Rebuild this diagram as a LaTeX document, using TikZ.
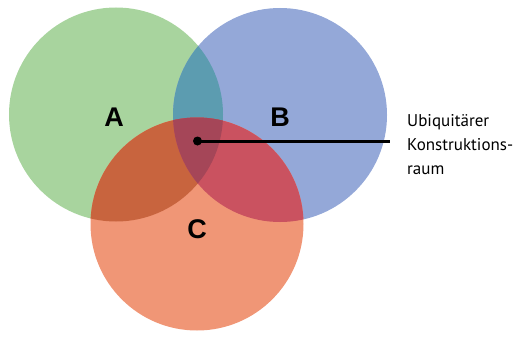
\documentclass[tikz,border=0pt]{standalone}
\usepackage{fontspec}
\setmainfont{PT Sans}
\newfontfamily\labfont{Liberation Sans}
\definecolor{cA}{RGB}{168,212,158}
\definecolor{cB}{RGB}{148,168,216}
\definecolor{cC}{RGB}{240,150,118}
\definecolor{cAB}{RGB}{92,156,176}
\definecolor{cAC}{RGB}{200,100,62}
\definecolor{cBC}{RGB}{202,82,96}
\definecolor{cABC}{RGB}{165,70,88}
\begin{document}
\begin{tikzpicture}[x=1pt,y=-1pt,
  lab/.style={font=\labfont\bfseries\fontsize{27}{27}\selectfont, text=black},
  note/.style={font=\fontsize{17}{20}\selectfont, anchor=base west, inner sep=0pt}]
\useasboundingbox (0,0) rectangle (532,337);
\def\circA{(116,114.5) circle[radius=107]}
\def\circB{(280,115) circle[radius=107]}
\def\circC{(197,224) circle[radius=106.5]}
\fill[cA] \circA;
\fill[cB] \circB;
\fill[cC] \circC;
\begin{scope}\clip \circA; \fill[cAB] \circB; \end{scope}
\begin{scope}\clip \circA; \fill[cAC] \circC; \end{scope}
\begin{scope}\clip \circB; \fill[cBC] \circC; \end{scope}
\begin{scope}\clip \circA; \clip \circB; \fill[cABC] \circC; \end{scope}
\node[lab] (A) at (114,117) {A};
\node[lab] (B) at (280,117) {B};
\node[lab] (C) at (197,229) {C};
\node[circle, fill=black, minimum size=9pt, inner sep=0pt] (dot) at (197.5,141) {};
\coordinate (lend) at (390,141);
\draw[line width=3pt] (dot.center) -- (lend);
\node[note] (t1) at (407,126) {Ubiquitärer};
\node[note] (t2) at (407,150) {Konstruktions-};
\node[note] (t3) at (407,174) {raum};
\end{tikzpicture}
\end{document}
